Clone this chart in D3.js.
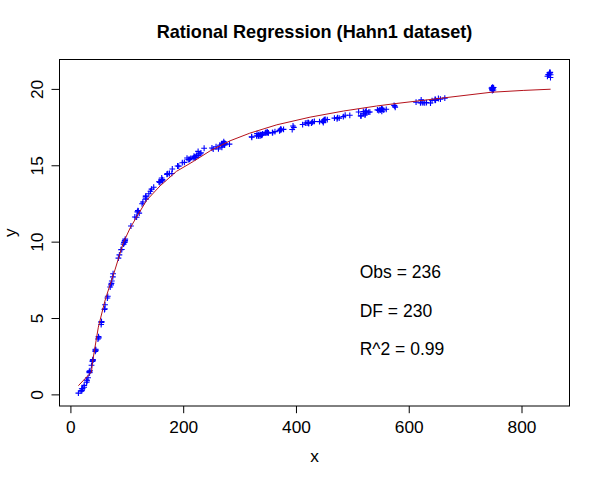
<!DOCTYPE html>
<html><head><meta charset="utf-8">
<script src="https://cdn.jsdelivr.net/npm/d3@7"></script>
<style>body{margin:0;background:#fff}svg{display:block}text{font-family:"Liberation Sans",Arial,sans-serif}</style>
</head><body>
<script>
// Hahn1 observations (x = temperature, y = thermal expansion)
const xVals = [24.41,34.82,44.09,45.07,54.98,65.51,70.53,75.70,89.57,91.14,96.40,97.19,114.26,120.25,127.08,133.55,133.61,158.67,172.74,171.31,202.14,220.55,221.05,221.39,250.99,268.99,271.80,271.97,321.31,321.69,330.14,333.03,333.47,340.77,345.65,373.11,373.79,411.82,419.51,421.59,422.02,422.47,422.61,441.75,447.41,448.70,472.89,476.69,522.47,522.62,524.43,546.75,549.53,575.29,576.00,625.55,20.15,28.78,29.57,37.41,39.12,50.24,61.38,66.25,73.42,95.52,107.32,122.04,134.03,163.19,163.48,175.70,179.86,211.27,217.78,219.14,262.52,268.01,268.62,336.25,337.23,339.33,427.38,428.58,432.68,528.99,531.08,628.34,253.24,273.13,273.66,282.10,346.62,347.19,348.78,351.18,450.10,450.35,451.92,455.56,552.22,553.56,555.74,652.59,656.20,14.13,20.41,31.30,33.84,39.70,48.83,54.50,60.41,72.77,75.25,86.84,94.88,96.40,117.37,139.08,147.73,158.63,161.84,192.11,206.76,209.07,213.32,226.44,237.12,330.90,358.72,370.77,372.72,396.24,416.59,484.02,495.47,514.78,515.65,519.47,544.47,560.11,620.77,18.97,28.93,33.91,40.03,44.66,49.87,55.16,60.90,72.08,85.15,97.06,119.63,133.27,143.84,161.91,180.67,198.44,226.86,229.65,258.27,273.77,339.15,350.13,362.75,371.03,393.32,448.53,473.78,511.12,524.70,548.75,551.64,574.02,623.86,21.46,24.33,33.43,39.22,44.18,55.02,94.33,96.44,118.82,128.48,141.94,156.92,171.65,190.00,223.26,223.88,231.50,265.05,269.44,271.78,273.46,334.61,339.79,349.52,358.18,377.98,394.77,429.66,468.22,487.27,519.54,523.03,612.99,638.59,641.36,622.05,631.50,663.97,646.9,748.29,749.21,750.14,647.04,646.89,746.9,748.43,747.35,749.27,647.61,747.78,750.51,851.37,845.97,847.54,849.93,851.61,849.75,850.98,848.23];
const yVals = [0.591,1.547,2.902,2.894,4.703,6.307,7.03,7.898,9.470,9.484,10.072,10.163,11.615,12.005,12.478,12.982,12.970,13.926,14.452,14.404,15.190,15.550,15.528,15.499,16.131,16.438,16.387,16.549,16.872,16.830,16.926,16.907,16.966,17.060,17.122,17.311,17.355,17.668,17.767,17.803,17.765,17.768,17.736,17.858,17.877,17.912,18.046,18.085,18.291,18.357,18.426,18.584,18.610,18.870,18.795,19.111,0.367,0.796,0.892,1.903,2.150,3.697,5.870,6.421,7.422,9.944,11.023,11.87,12.786,14.067,13.974,14.462,14.464,15.381,15.483,15.59,16.075,16.347,16.181,16.915,17.003,16.978,17.756,17.808,17.868,18.481,18.486,19.090,16.062,16.337,16.345,16.388,17.159,17.116,17.164,17.123,17.979,17.974,18.007,17.993,18.523,18.669,18.617,19.371,19.330,0.080,0.248,1.089,1.418,2.278,3.624,4.574,5.556,7.267,7.695,9.136,9.959,9.957,11.600,13.138,13.564,13.871,13.994,14.947,15.473,15.379,15.455,15.908,16.114,17.071,17.135,17.282,17.368,17.483,17.764,18.185,18.271,18.236,18.237,18.523,18.627,18.665,19.086,0.214,0.943,1.429,2.241,2.951,3.782,4.757,5.602,7.169,8.920,10.055,12.035,12.861,13.436,14.167,14.755,15.168,15.651,15.746,16.216,16.445,16.965,17.121,17.206,17.250,17.339,17.793,18.123,18.49,18.566,18.645,18.706,18.924,19.1,0.375,0.471,1.504,2.204,2.813,4.765,9.835,10.040,11.946,12.596,13.303,13.922,14.440,14.951,15.627,15.639,15.814,16.315,16.334,16.430,16.423,17.024,17.009,17.165,17.134,17.349,17.576,17.848,18.090,18.276,18.404,18.519,19.133,19.074,19.239,19.280,19.101,19.398,19.252,19.89,20.007,19.929,19.268,19.324,20.049,20.107,20.062,20.065,19.286,19.972,20.088,20.743,20.83,20.935,21.035,20.93,21.074,21.085,20.935];

// Fitted curve
const fitX = [14.13,37.4,39.1,49.5,61,70,79,91,94,106,118,135,159,188,218,248,283,318,366,425,484,543,579,625,664,746,803,851.6];
const fitY = [0.57,1.47,2.1,4.4,6.1,7.15,8.15,9.6,9.95,10.9,11.65,12.7,13.65,14.6,15.25,15.95,16.6,17.1,17.65,18.15,18.55,18.88,19.05,19.25,19.42,19.78,19.9,19.98];

const xTicks = [0,200,400,600,800];
const yTicks = [0,5,10,15,20];
const title = "Rational Regression (Hahn1 dataset)";
const statLabels = ["Obs = 236","DF = 230","R^2 = 0.99"];
const statY = [8,5.5,3];
const statX = 513;

const W=600,H=480;
const L=59.5,R=569.5,T=59.5,B=406;
const svg=d3.select("body").append("svg").attr("width",W).attr("height",H);

function rExt(ext){const d=(ext[1]-ext[0])*0.04;return [ext[0]-d,ext[1]+d];}
const x=d3.scaleLinear().domain(rExt(d3.extent(xVals))).range([L,R]);
const y=d3.scaleLinear().domain(rExt(d3.extent(yVals))).range([B,T]);

// points (pch = 3)
const s=2.9;
const pts=svg.append("g").attr("stroke","#0000FF").attr("stroke-width",1.1).attr("fill","none");
xVals.forEach((xv,i)=>{
  const px=x(xv),py=y(yVals[i]);
  pts.append("path").attr("d",`M${px-s},${py}H${px+s}M${px},${py-s}V${py+s}`);
});

// fitted line
svg.append("path").datum(fitX.map((v,i)=>[v,fitY[i]]))
  .attr("d",d3.line().x(d=>x(d[0])).y(d=>y(d[1])))
  .attr("fill","none").attr("stroke","#B5121B").attr("stroke-width",1);

// box
svg.append("rect").attr("x",L).attr("y",T).attr("width",R-L).attr("height",B-T)
  .attr("fill","none").attr("stroke","#000").attr("stroke-width",1);

// axes
const xa=svg.append("g").attr("transform",`translate(0,${B})`)
  .call(d3.axisBottom(x).tickValues(xTicks).tickSize(7.2).tickPadding(0).tickFormat(d3.format("d")));
xa.select(".domain").remove();
xa.selectAll("text").attr("font-size",17.3).attr("fill","#000").attr("dy",null).attr("y",26.7);
const ya=svg.append("g").attr("transform",`translate(${L},0)`)
  .call(d3.axisLeft(y).tickValues(yTicks).tickSize(8).tickPadding(0).tickFormat(d3.format("d")));
ya.select(".domain").remove();
ya.selectAll("text").attr("font-size",17.3).attr("fill","#000")
  .attr("x",null).attr("dy",null).attr("text-anchor","middle")
  .attr("transform","translate(-16.8,0) rotate(-90)").attr("y",0);

// titles
svg.append("text").attr("x",(L+R)/2).attr("y",37.5).attr("text-anchor","middle")
  .attr("font-size",18.1).attr("font-weight","bold").text(title);
svg.append("text").attr("x",(L+R)/2).attr("y",462).attr("text-anchor","middle")
  .attr("font-size",17.3).text("x");
svg.append("text").attr("transform",`translate(16,${(T+B)/2}) rotate(-90)`).attr("text-anchor","middle")
  .attr("font-size",17.3).text("y");

// stats
statLabels.forEach((t,i)=>{
  svg.append("text").attr("x",x(statX)).attr("y",y(statY[i])).attr("dy","0.35em")
    .attr("font-size",17.5).text(t);
});
</script>
</body></html>
